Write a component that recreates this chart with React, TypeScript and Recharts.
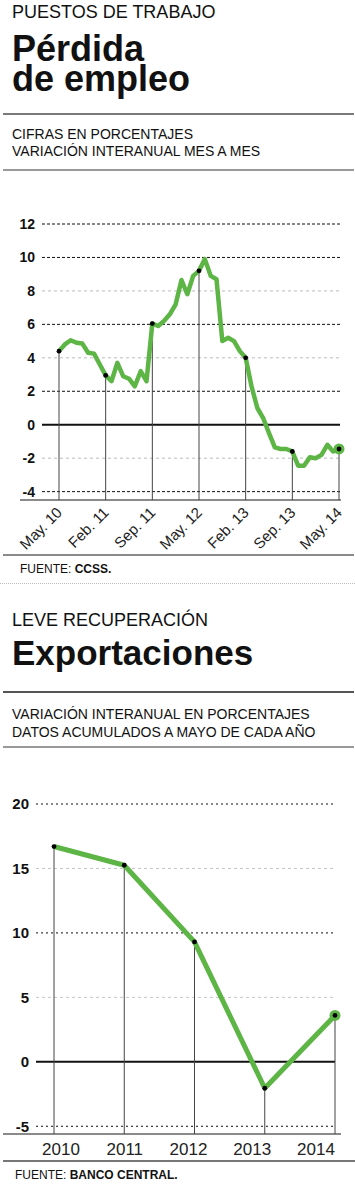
import React from "react";
import { LineChart, Line, XAxis, YAxis, ReferenceLine } from "recharts";

const FONT = '"Liberation Sans", Arial, Helvetica, sans-serif';
const GREEN = "#5db546";

// Pérdida de empleo: variación interanual mensual, mayo 2010 a mayo 2014
const empleoValues = [
  4.4, 4.8, 5.05, 4.9, 4.85, 4.3, 4.25, 3.6, 2.95, 2.6, 3.7, 2.9, 2.75, 2.3, 3.2, 2.6,
  6.05, 5.9, 6.2, 6.6, 7.2, 8.65, 7.8, 8.9, 9.2, 9.9, 8.9, 8.7, 5.0, 5.2, 5.0, 4.4,
  4.0, 2.3, 1.0, 0.4, -0.5, -1.35, -1.45, -1.45, -1.6, -2.45, -2.45, -1.95, -2.0, -1.8, -1.2, -1.6,
  -1.45,
];
const empleoTicks = [0, 8, 16, 24, 32, 40, 48];
const empleoLabels = ["May. 10", "Feb. 11", "Sep. 11", "May. 12", "Feb. 13", "Sep. 13", "May. 14"];
const empleoYTicks = [-4, -2, 0, 2, 4, 6, 8, 10, 12];
const empleoDarkGrid = [12, 10, 6, 2, -4];
const empleoLightGrid = [8, 4, -2];
const empleoMin = -4.5;

// Exportaciones: acumulado a mayo
const expYears = [2010, 2011, 2012, 2013, 2014];
const expValues = [16.7, 15.25, 9.3, -2.05, 3.6];
const expYTicks = [-5, 0, 5, 10, 15, 20];
const expDarkGrid = [20, 10, -5];
const expLightGrid = [15, 5];
const expMin = -5.6;

const empleoData = empleoValues.map((v, i) => ({ i, v }));
const expData = expYears.map((year, i) => ({ year, v: expValues[i] }));

const makeDot = (marked: number[], last: number) => (props: any) => {
  const { cx, cy, index } = props;
  if (!marked.includes(index)) return <g key={`d-${index}`} />;
  return (
    <g key={`d-${index}`}>
      {index === last && <circle cx={cx} cy={cy} r={5.5} fill={GREEN} />}
      <circle cx={cx} cy={cy} r={2.4} fill="#000" />
    </g>
  );
};

const RotTick = (props: any) => {
  const { x, y, payload } = props;
  const label = empleoLabels[empleoTicks.indexOf(payload.value)];
  return (
    <g transform={`translate(${x + 4},${y + 5.5})`}>
      <text transform="rotate(-45)" textAnchor="end" fontSize={15} fill="#222" fontFamily={FONT}>
        {label}
      </text>
    </g>
  );
};

const rule = (top: number, color: string, h = 2, left = 3, width = 351) => (
  <div style={{ position: "absolute", top, left, width, height: h, background: color }} />
);

const txt = (top: number, left: number, size: number, lh: number, weight: number, content: React.ReactNode) => (
  <div
    style={{
      position: "absolute",
      top,
      left,
      fontSize: size,
      lineHeight: `${lh}px`,
      fontWeight: weight,
      color: "#111",
      whiteSpace: "nowrap",
    }}
  >
    {content}
  </div>
);

export default function App() {
  return (
    <div
      style={{
        position: "absolute",
        top: 0,
        left: 0,
        width: 355,
        height: 1185,
        background: "#fff",
        fontFamily: FONT,
        overflow: "hidden",
      }}
    >
      {txt(2, 12, 18, 20, 400, "PUESTOS DE TRABAJO")}
      {txt(34.2, 12, 36, 30, 700, "Pérdida")}
      {txt(64.2, 12, 36, 30, 700, "de empleo")}
      {rule(113, "#7a7a7a")}
      {txt(125.5, 12, 14, 17.5, 400, <>CIFRAS EN PORCENTAJES<br />VARIACIÓN INTERANUAL MES A MES</>)}
      {rule(169, "#999")}

      {rule(499, "#8a8a8a", 2, 20, 321)}
      <div style={{ position: "absolute", top: 170, left: 0 }}>
        <LineChart width={355} height={390} data={empleoData} margin={{ top: 54, right: 15, left: 0, bottom: 0 }}>
          <XAxis
            dataKey="i"
            type="number"
            domain={[0, 48]}
            ticks={empleoTicks}
            interval={0}
            padding={{ left: 17, right: 1 }}
            height={60}
            axisLine={false}
            tickLine={false}
            tickSize={6}
            tickMargin={2}
            tick={<RotTick />}
          />
          <YAxis
            type="number"
            domain={[empleoMin, 12]}
            ticks={empleoYTicks}
            interval={0}
            width={42}
            axisLine={false}
            tickLine={false}
            tickSize={6}
            tickMargin={1}
            allowDataOverflow
            tick={{ fontSize: 14, fontWeight: 700, fill: "#111", fontFamily: FONT }}
          />
          {empleoLightGrid.map((v) => (
            <ReferenceLine key={`l${v}`} y={v} stroke="#bbb" strokeDasharray="3 3" />
          ))}
          {empleoDarkGrid.map((v) => (
            <ReferenceLine key={`k${v}`} y={v} stroke="#111" strokeDasharray="3 2" />
          ))}
          <ReferenceLine y={0} stroke="#111" strokeWidth={2} />
          {empleoTicks.map((i) => (
            <ReferenceLine
              key={`s${i}`}
              segment={[{ x: i, y: empleoValues[i] }, { x: i, y: empleoMin }]}
              stroke="#444"
            />
          ))}
          <Line
            dataKey="v"
            stroke={GREEN}
            strokeWidth={4.5}
            strokeLinejoin="round"
            dot={makeDot(empleoTicks, empleoValues.length - 1)}
            activeDot={false}
            isAnimationActive={false}
          />
        </LineChart>
      </div>

      {rule(554, "#8a8a8a")}
      {txt(562, 20, 12, 14, 400, <>FUENTE: <b>CCSS.</b></>)}
      <div style={{ position: "absolute", top: 583, left: 0, width: 355, borderTop: "1px dotted #bbb" }} />

      {txt(609.8, 12, 18, 20, 400, "LEVE RECUPERACIÓN")}
      {txt(635.4, 12, 35, 35, 700, "Exportaciones")}
      {rule(691, "#555")}
      {txt(704.5, 12, 14, 18, 400, <>VARIACIÓN INTERANUAL EN PORCENTAJES<br />DATOS ACUMULADOS A MAYO DE CADA AÑO</>)}
      {rule(746, "#999")}

      {rule(1133, "#8a8a8a", 2, 3, 338)}
      <div style={{ position: "absolute", top: 780, left: 0 }}>
        <LineChart width={355} height={384} data={expData} margin={{ top: 24, right: 20, left: 0, bottom: 0 }}>
          <XAxis
            dataKey="year"
            type="number"
            domain={[2010, 2014]}
            ticks={expYears}
            padding={{ left: 18, right: 0 }}
            height={0}
            hide
          />
          <XAxis
            xAxisId="lab"
            dataKey="year"
            type="category"
            padding={{ left: 25, right: 19 }}
            height={30}
            axisLine={false}
            tickLine={false}
            tickSize={6}
            tickMargin={3}
            interval={0}
            tick={{ fontSize: 17, fill: "#222", fontFamily: FONT }}
          />
          <YAxis
            type="number"
            domain={[expMin, 20]}
            ticks={expYTicks}
            interval={0}
            width={36}
            axisLine={false}
            tickLine={false}
            tickSize={6}
            tickMargin={1}
            allowDataOverflow
            tick={{ fontSize: 15, fontWeight: 700, fill: "#111", fontFamily: FONT }}
          />
          {expLightGrid.map((v) => (
            <ReferenceLine key={`l${v}`} y={v} stroke="#c4c4c4" strokeDasharray="3 3" />
          ))}
          {expDarkGrid.map((v) => (
            <ReferenceLine key={`k${v}`} y={v} stroke="#111" strokeDasharray="2 3" />
          ))}
          <ReferenceLine y={0} stroke="#111" strokeWidth={2} />
          {expYears.map((yr, i) => (
            <ReferenceLine
              key={`s${yr}`}
              segment={[{ x: yr, y: expValues[i] }, { x: yr, y: expMin }]}
              stroke="#444"
            />
          ))}
          <Line
            dataKey="v"
            stroke={GREEN}
            strokeWidth={5}
            strokeLinejoin="round"
            dot={makeDot([0, 1, 2, 3, 4], expValues.length - 1)}
            activeDot={false}
            isAnimationActive={false}
          />
        </LineChart>
      </div>

      {rule(1160, "#777", 2, 3, 352)}
      {txt(1168, 15, 12, 14, 400, <>FUENTE: <b>BANCO CENTRAL.</b></>)}
    </div>
  );
}
